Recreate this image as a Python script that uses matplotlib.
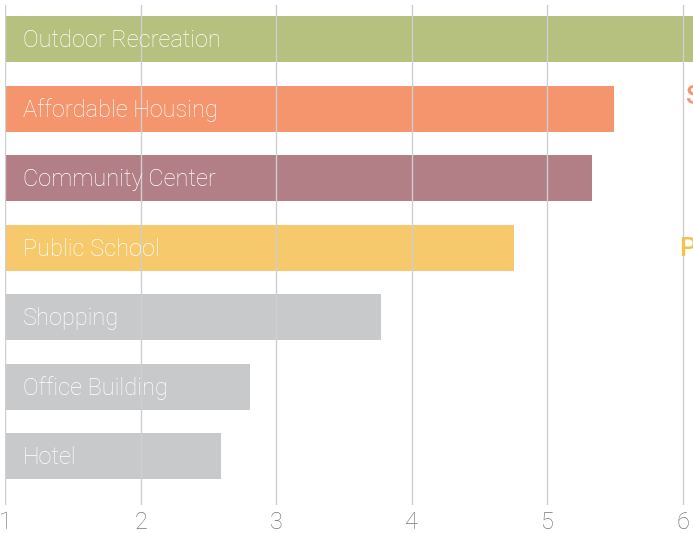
import numpy as np
import matplotlib.pyplot as plt

categories = ["Outdoor Recreation", "Affordable Housing", "Community Center",
              "Public School", "Shopping", "Office Building", "Hotel"]
values = [6.1, 5.49, 5.33, 4.75, 3.77, 2.81, 2.59]
colors = ["#b6c17f", "#f4956e", "#b27f87", "#f6ca6c", "#c8c9cb", "#c8c9cb", "#c8c9cb"]
ticks = [1, 2, 3, 4, 5, 6]

plt.rcParams['font.family'] = ['Roboto', 'DejaVu Sans']

fig = plt.figure(figsize=(6.93, 5.33), dpi=100)
ax = fig.add_axes([5 / 693, 28 / 533, 688 / 693, 500 / 533])

y = np.arange(len(categories))
base = ticks[0]
ax.barh(y, np.array(values) - base, left=base, height=0.66, color=colors, zorder=1)

for i, name in enumerate(categories):
    ax.text(base + 0.13, i + 0.02, name, color="white", fontsize=17, fontweight="light",
            va="center", ha="left", zorder=3)

# side notes cut off by the figure edge
ax.text(6.02, 0.83, "S", color="#f4956e", fontsize=19, fontweight="medium",
        va="center", ha="left", clip_on=False)
ax.text(5.975, 3.02, "P", color="#f6c04e", fontsize=19, fontweight="medium",
        va="center", ha="left", clip_on=False)

ax.set_xlim(1, 1 + 688 / 135.6)
ax.set_ylim(6.7, -0.49)
ax.set_xticks(ticks)
ax.set_yticks([])
ax.xaxis.grid(True, color="#cfcfcf", linewidth=1, zorder=2)
ax.set_axisbelow(False)
ax.tick_params(axis="x", length=0, pad=4, labelsize=17, labelcolor="#777777")
for lbl in ax.get_xticklabels():
    lbl.set_fontweight("light")
for s in ax.spines.values():
    s.set_visible(False)

fig.savefig("out.png", dpi=100)
